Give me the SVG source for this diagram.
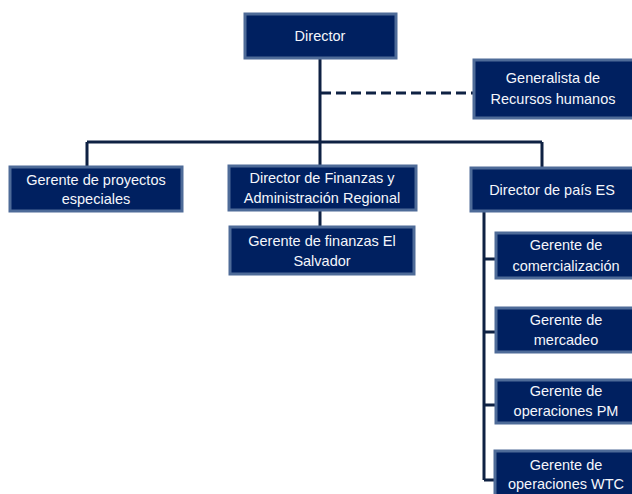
<svg xmlns="http://www.w3.org/2000/svg" width="632" height="494" viewBox="0 0 632 494">
<defs>
<style>
.box{fill:#002060;stroke:#4e6b98;stroke-width:3}
.t{font-family:"Liberation Sans",Arial,sans-serif;font-size:14.5px;fill:#f4f6fb;text-anchor:middle;dominant-baseline:central}
.ln{stroke:#0e2143;stroke-width:3;fill:none}
.dash{stroke:#0e2143;stroke-width:3;fill:none;stroke-dasharray:10 5}
</style>
</defs>
<rect width="632" height="494" fill="#ffffff"/>
<g id="connectors">
<path class="ln" d="M320 58 V142"/>
<path class="dash" d="M321 93 H474"/>
<path class="ln" d="M87 142 H542 M87 142 V167 M320 142 V166 M542 142 V168"/>
<path class="ln" d="M320 210 V227"/>
<path class="ln" d="M484 211 V480 M484 259 H496 M484 332 H496 M484 405 H496 M484 480 H495"/>
</g>
<g id="director"><rect class="box" x="245" y="14" width="151" height="44"/><text class="t" x="320" y="36">Director</text></g>
<g id="generalista"><rect class="box" x="474" y="60" width="162" height="58"/><text class="t" x="553" y="78">Generalista de</text><text class="t" x="553" y="99">Recursos humanos</text></g>
<g id="proyectos"><rect class="box" x="10" y="167" width="172" height="44"/><text class="t" x="96" y="180">Gerente de proyectos</text><text class="t" x="96" y="199">especiales</text></g>
<g id="finanzas"><rect class="box" x="229" y="166" width="187" height="44"/><text class="t" x="322" y="178">Director de Finanzas y</text><text class="t" x="322" y="198">Administración  Regional</text></g>
<g id="gerente-finanzas"><rect class="box" x="230" y="227" width="184" height="47"/><text class="t" x="322" y="241">Gerente de finanzas  El</text><text class="t" x="322" y="261">Salvador</text></g>
<g id="pais"><rect class="box" x="471" y="168" width="165" height="43"/><text class="t" x="552" y="190">Director de país ES</text></g>
<g id="comercializacion"><rect class="box" x="496" y="233" width="142" height="45"/><text class="t" x="566" y="245">Gerente de</text><text class="t" x="566" y="266">comercialización</text></g>
<g id="mercadeo"><rect class="box" x="496" y="308" width="142" height="44"/><text class="t" x="566" y="320">Gerente de</text><text class="t" x="566" y="340">mercadeo</text></g>
<g id="pm"><rect class="box" x="496" y="380" width="142" height="43"/><text class="t" x="566" y="391">Gerente de</text><text class="t" x="566" y="411">operaciones PM</text></g>
<g id="wtc"><rect class="box" x="495" y="451" width="143" height="50"/><text class="t" x="566" y="465">Gerente de</text><text class="t" x="566" y="484">operaciones WTC</text></g>
</svg>
